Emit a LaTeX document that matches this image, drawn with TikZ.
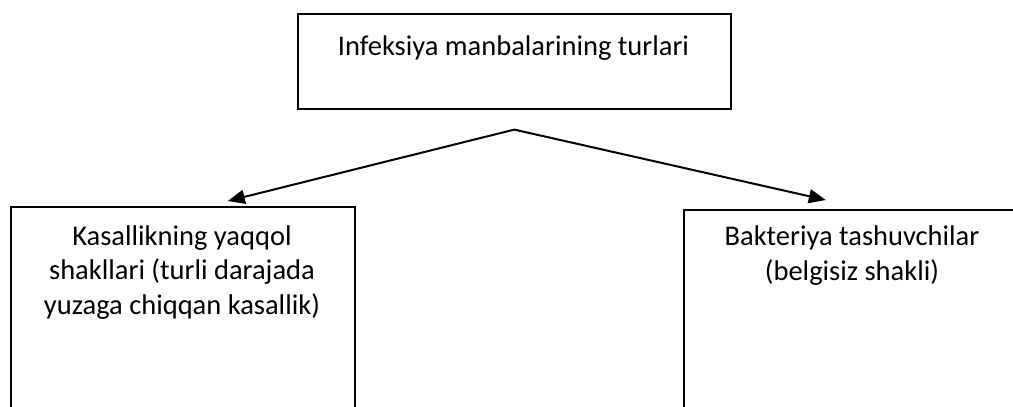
\documentclass[tikz,border=0pt]{standalone}
\usepackage{fontspec}
\setmainfont{Carlito}
\usetikzlibrary{arrows.meta}
\tikzset{
  box/.style={draw, line width=1.6pt, inner sep=0pt, anchor=north west},
  lbl/.style={align=center, font=\fontsize{28.5}{34.5}\selectfont, anchor=base, inner sep=0pt},
  arr/.style={line width=2pt, {Triangle[length=17pt,width=14pt]}-{Triangle[length=17pt,width=14pt]}}
}
\begin{document}
\begin{tikzpicture}[x=1pt,y=-1pt]
\useasboundingbox (0,0) rectangle (1013,407);
\clip (0,0) rectangle (1013,407);

\node[box, minimum width=433pt, minimum height=95pt] (src) at (297,13) {};
\node[lbl] (srctxt) at (513.5,55) {Infeksiya manbalarining turlari};

\node[box, minimum width=344pt, minimum height=250pt] (clin) at (10,206) {};
\node[lbl] (clintxt) at (182,314) {Kasallikning yaqqol\\ shakllari (turli darajada\\ yuzaga chiqqan kasallik)};

\node[box, minimum width=338pt, minimum height=250pt] (carr) at (683,209) {};
\node[lbl] (carrtxt) at (852,280) {Bakteriya tashuvchilar\\ (belgisiz shakli)};

\coordinate (apex) at ([yshift=-20pt]src.south);
\draw[arr] ([xshift=45pt,yshift=5pt]clin.north) -- (apex) -- ([xshift=-27pt,yshift=9pt]carr.north);
\end{tikzpicture}
\end{document}
